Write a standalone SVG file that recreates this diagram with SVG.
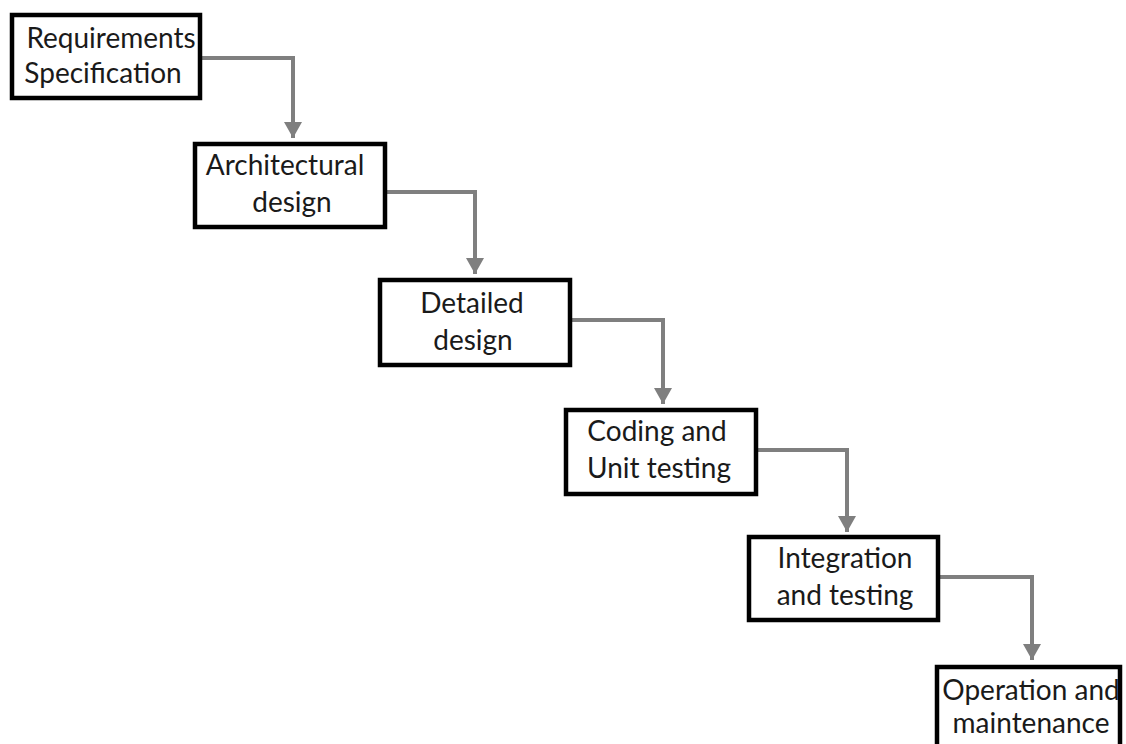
<svg xmlns="http://www.w3.org/2000/svg" width="1126" height="744" viewBox="0 0 1126 744">
<defs>
<style>
.box{fill:#fff;stroke:#000;stroke-width:4.5}
.lbl{font-family:Lato,"Open Sans",sans-serif;font-size:28px;fill:#1a1a1a;text-anchor:middle}
.conn{fill:none;stroke:#7f7f7f;stroke-width:4}
</style>
<marker id="ah" markerUnits="userSpaceOnUse" markerWidth="20" markerHeight="18" refX="16" refY="9" orient="auto">
<path d="M0,0 L16,9 L0,18 Z" fill="#7f7f7f"/>
</marker>
</defs>
<rect width="1126" height="744" fill="#fff"/>
<g id="connectors">
<path class="conn" d="M202,58 H293 V138" marker-end="url(#ah)"/>
<path class="conn" d="M387,192 H475 V274" marker-end="url(#ah)"/>
<path class="conn" d="M572,320 H663 V404" marker-end="url(#ah)"/>
<path class="conn" d="M758,450 H847 V532" marker-end="url(#ah)"/>
<path class="conn" d="M940,577 H1032 V660" marker-end="url(#ah)"/>
</g>
<g id="n1">
<rect class="box" x="12" y="15" width="188" height="83"/>
<text class="lbl" x="111" y="48">Requirements</text>
<text class="lbl" x="103" y="83">Specification</text>
</g>
<g id="n2">
<rect class="box" x="195" y="144" width="190" height="83"/>
<text class="lbl" x="285" y="175">Architectural</text>
<text class="lbl" x="292" y="212">design</text>
</g>
<g id="n3">
<rect class="box" x="380" y="280" width="190" height="85"/>
<text class="lbl" x="472" y="313">Detailed</text>
<text class="lbl" x="473" y="350">design</text>
</g>
<g id="n4">
<rect class="box" x="566" y="410" width="190" height="84"/>
<text class="lbl" x="657" y="441">Coding and</text>
<text class="lbl" x="659" y="478">Unit testing</text>
</g>
<g id="n5">
<rect class="box" x="749" y="537" width="189" height="83"/>
<text class="lbl" x="845" y="568">Integration</text>
<text class="lbl" x="845" y="605">and testing</text>
</g>
<g id="n6">
<rect class="box" x="937" y="667" width="183" height="90"/>
<text class="lbl" x="1031" y="700">Operation and</text>
<text class="lbl" x="1031" y="733">maintenance</text>
</g>
</svg>
